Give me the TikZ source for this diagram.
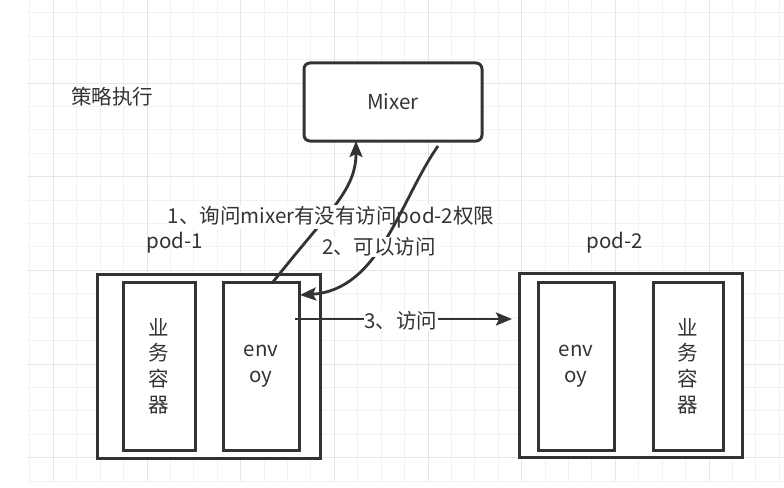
\documentclass[tikz,border=0pt]{standalone}
\usepackage{fontspec}
\setmainfont{Noto Sans CJK SC}
\usetikzlibrary{arrows.meta}
\definecolor{ink}{HTML}{333333}
\definecolor{gridminor}{HTML}{F2F2F2}
\definecolor{gridmajor}{HTML}{E6E6E6}

\begin{document}
\begin{tikzpicture}[x=1pt, y=-1pt,
    font=\fontsize{20.5}{25.6}\selectfont, text=ink,
    pod/.style={draw=ink, line width=3pt, fill=white, minimum width=223pt, minimum height=184pt},
    ctr/.style={draw=ink, line width=3pt, fill=white, minimum height=168pt, align=center, inner sep=0pt},
    flow/.style={draw=ink, line width=2.8pt, -{Stealth[length=16pt, width=13pt, inset=3pt]}},
    lbl/.style={fill=white, inner sep=1pt}]

    \useasboundingbox (0,0) rectangle (784,487);
    \fill[white] (0,0) rectangle (784,487);

    % background grid
    \foreach \k in {-5,...,27}
        \draw[gridminor, line width=1pt] (147+\k*23.42,0) -- (147+\k*23.42,481);
    \foreach \k in {-3,...,17}
        \draw[gridminor, line width=1pt] (27,83+\k*23.42) -- (784,83+\k*23.42);
    \foreach \k in {-4,0,...,24}
        \draw[gridmajor, line width=1pt] (147+\k*23.42,0) -- (147+\k*23.42,481);
    \foreach \k in {0,4,...,16}
        \draw[gridmajor, line width=1pt] (27,83+\k*23.42) -- (784,83+\k*23.42);

    \node (title) at (112,97) {策略执行};
    \node[draw=ink, line width=3pt, rounded corners=6pt, fill=white, minimum width=178pt, minimum height=78pt] (mixer) at (393,102) {Mixer};

    \node (pod1lbl) at (175,243) {pod-1};
    \node (pod2lbl) at (615,243) {pod-2};

    \node[pod] (pod1) at (208.5,366) {};
    \node[ctr, minimum width=72pt] (app1) at (159,366) {业\\务\\容\\器};
    \node[ctr, minimum width=76pt] (envoy1) at (261,366) {env\\oy};

    \node[pod] (pod2) at (630.5,365.5) {};
    \node[ctr, minimum width=76pt] (envoy2) at (576,366) {env\\oy};
    \node[ctr, minimum width=70pt] (app2) at (688,366) {业\\务\\容\\器};

    \coordinate (ask) at (273,282);
    \coordinate (askend) at (356,141);
    \coordinate (reply) at (438,146);
    \coordinate (replyend) at (300,295);
    \coordinate (call) at (295,319);
    \coordinate (callend) at (512,319);

    \draw[flow] (ask) .. controls (330,210) and (356,190) .. (askend);
    \node[lbl] (asklbl) at (331,217) {1、询问mixer有没有访问pod-2权限};

    \draw[flow] (reply) .. controls (400,200) and (380,290) .. (replyend);
    \node[lbl] (replylbl) at (379,247) {2、可以访问};

    \draw[flow] (call) -- (callend);
    \node[lbl] (calllbl) at (401,321) {3、访问};

\end{tikzpicture}
\end{document}
